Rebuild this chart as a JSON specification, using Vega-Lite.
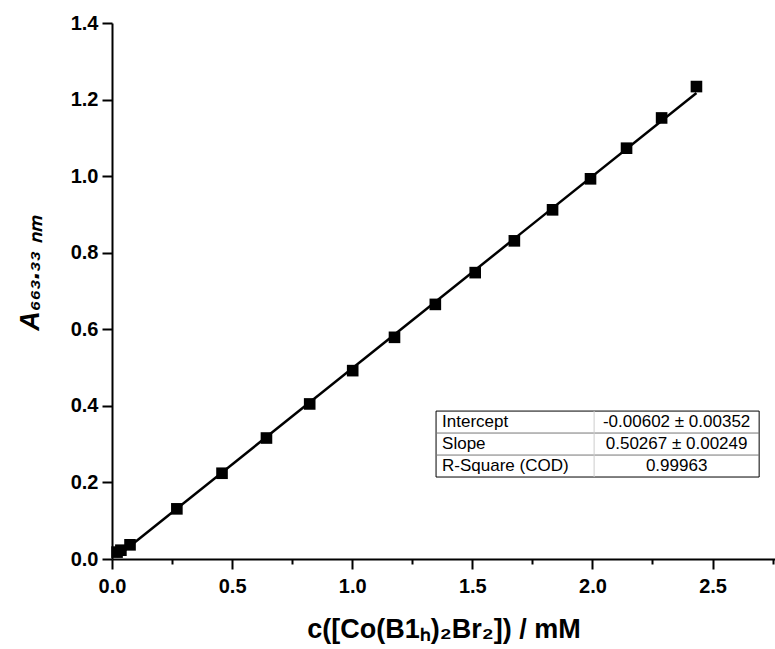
{
  "$schema": "https://vega.github.io/schema/vega-lite/v6.json",
  "width": 663,
  "height": 536,
  "autosize": {"type": "none"},
  "padding": {"left": 112, "top": 23, "right": 0, "bottom": 90},
  "background": "white",
  "config": {"view": {"stroke": null}, "font": "Liberation Sans"},
  "datasets": {
    "points": [
      {"c": 0.021, "A": 0.018},
      {"c": 0.037, "A": 0.023},
      {"c": 0.075, "A": 0.037},
      {"c": 0.270, "A": 0.131},
      {"c": 0.458, "A": 0.224},
      {"c": 0.643, "A": 0.316},
      {"c": 0.823, "A": 0.405},
      {"c": 1.002, "A": 0.492},
      {"c": 1.176, "A": 0.579},
      {"c": 1.346, "A": 0.665},
      {"c": 1.512, "A": 0.748},
      {"c": 1.675, "A": 0.831},
      {"c": 1.834, "A": 0.912},
      {"c": 1.992, "A": 0.993},
      {"c": 2.142, "A": 1.073},
      {"c": 2.288, "A": 1.152},
      {"c": 2.433, "A": 1.234}
    ]
  },
  "layer": [
    {
      "data": {"name": "points"},
      "transform": [{"regression": "A", "on": "c"}],
      "mark": {"type": "line", "color": "black", "strokeWidth": 2.5},
      "encoding": {
        "x": {
          "field": "c", "type": "quantitative",
          "scale": {"domain": [0, 2.76], "nice": false, "zero": false},
          "axis": {
            "values": [0, 0.25, 0.5, 0.75, 1, 1.25, 1.5, 1.75, 2, 2.25, 2.5, 2.75],
            "labelExpr": "abs(datum.value*2-round(datum.value*2))<0.001 ? format(datum.value,'.1f') : ''",
            "tickSize": {"condition": {"test": "abs(datum.value*2-round(datum.value*2))<0.001", "value": 10}, "value": 5},
            "tickWidth": 2, "tickColor": "black",
            "domainColor": "black", "domainWidth": 2,
            "labelFont": "Liberation Sans", "labelFontSize": 20, "labelFontWeight": "bold", "labelColor": "black",
            "labelPadding": 7, "labelOverlap": false, "labelFlush": false,
            "grid": false,
            "title": "c([Co(B1ₕ)₂Br₂]) / mM",
            "titleFont": "Liberation Sans", "titleFontSize": 27, "titleFontWeight": "bold", "titleColor": "black",
            "titlePadding": 20
          }
        },
        "y": {
          "field": "A", "type": "quantitative",
          "scale": {"domain": [0, 1.4], "nice": false, "zero": false},
          "axis": {
            "values": [0, 0.1, 0.2, 0.3, 0.4, 0.5, 0.6, 0.7, 0.8, 0.9, 1.0, 1.1, 1.2, 1.3, 1.4],
            "labelExpr": "abs(datum.value*5-round(datum.value*5))<0.001 ? format(datum.value,'.1f') : ''",
            "tickSize": {"condition": {"test": "abs(datum.value*5-round(datum.value*5))<0.001", "value": 10}, "value": 5},
            "tickWidth": 2, "tickColor": "black",
            "domainColor": "black", "domainWidth": 2,
            "labelFont": "Liberation Sans", "labelFontSize": 20, "labelFontWeight": "bold", "labelColor": "black",
            "labelPadding": 4, "labelOverlap": false, "labelFlush": false,
            "grid": false,
            "title": "A₆₆₃.₃₃ ₙₘ",
            "titleFont": "Liberation Sans", "titleFontSize": 27, "titleFontWeight": "bold", "titleFontStyle": "italic", "titleColor": "black",
            "titleX": -82, "titleY": 250, "titleBaseline": "middle", "titleAlign": "center", "titleAngle": -90
          }
        }
      }
    },
    {
      "data": {"name": "points"},
      "mark": {"type": "square", "size": 135, "color": "black", "opacity": 1, "filled": true},
      "encoding": {
        "x": {"field": "c", "type": "quantitative"},
        "y": {"field": "A", "type": "quantitative"}
      }
    },
    {
      "data": {"values": [{}]},
      "mark": {"type": "rect", "fill": "white", "stroke": "black", "strokeWidth": 1},
      "encoding": {
        "x": {"datum": 1.349}, "x2": {"datum": 2.694},
        "y": {"datum": 0.3864}, "y2": {"datum": 0.2141}
      }
    },
    {
      "data": {"values": [{"yv": 0.329}, {"yv": 0.2715}]},
      "mark": {"type": "rule", "stroke": "#777777", "strokeWidth": 1},
      "encoding": {
        "x": {"datum": 1.349}, "x2": {"datum": 2.694},
        "y": {"field": "yv", "type": "quantitative"}
      }
    },
    {
      "data": {"values": [{}]},
      "mark": {"type": "rule", "stroke": "#cccccc", "strokeWidth": 1},
      "encoding": {
        "x": {"datum": 2.007},
        "y": {"datum": 0.3864}, "y2": {"datum": 0.2141}
      }
    },
    {
      "data": {"values": [{"label": "Intercept", "row": 0.3577}, {"label": "Slope", "row": 0.3003}, {"label": "R-Square (COD)", "row": 0.2428}]},
      "mark": {"type": "text", "align": "left", "baseline": "middle", "font": "Liberation Sans", "fontSize": 17, "color": "black"},
      "encoding": {
        "x": {"datum": 1.374},
        "y": {"field": "row", "type": "quantitative"},
        "text": {"field": "label"}
      }
    },
    {
      "data": {"values": [{"label": "-0.00602 ± 0.00352", "row": 0.3577}, {"label": "0.50267 ± 0.00249", "row": 0.3003}, {"label": "0.99963", "row": 0.2428}]},
      "mark": {"type": "text", "align": "center", "baseline": "middle", "font": "Liberation Sans", "fontSize": 17, "color": "black"},
      "encoding": {
        "x": {"datum": 2.3505},
        "y": {"field": "row", "type": "quantitative"},
        "text": {"field": "label"}
      }
    }
  ]
}
